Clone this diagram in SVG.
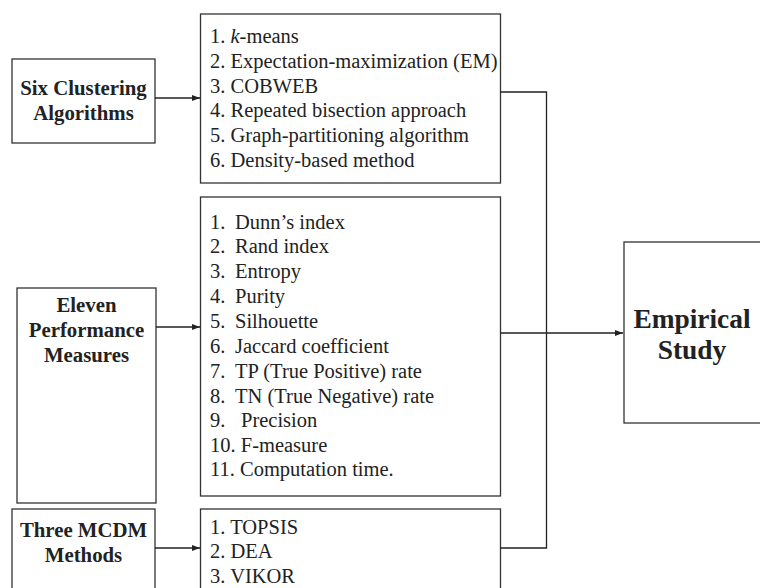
<svg xmlns="http://www.w3.org/2000/svg" width="760" height="588" viewBox="0 0 760 588">
<defs>
<marker id="ah" viewBox="0 0 8 6" refX="8" refY="3" markerWidth="8" markerHeight="6" markerUnits="userSpaceOnUse" orient="auto">
<path d="M0,0 L8,3 L0,6 Z" fill="#222"/>
</marker>
<style>
rect{fill:#fff;stroke:#333;stroke-width:1.3}
.c{fill:none;stroke:#222;stroke-width:1.3}
text{font-family:"Liberation Serif","Times New Roman",serif;fill:#222}
.h{font-weight:bold;font-size:20.8px;text-anchor:middle}
.l{font-size:20.5px}
.e{font-weight:bold;font-size:27.4px;text-anchor:middle}
</style>
</defs>
<rect x="0" y="0" width="760" height="588" style="stroke:none"/>
<g id="n-six">
<rect x="12" y="59" width="143" height="84"/>
<text class="h" x="83.5" y="95">Six Clustering</text>
<text class="h" x="83.5" y="120">Algorithms</text>
</g>
<g id="n-eleven">
<rect x="17" y="288" width="139" height="215"/>
<text class="h" x="86.5" y="312">Eleven</text>
<text class="h" x="86.5" y="337">Performance</text>
<text class="h" x="86.5" y="362">Measures</text>
</g>
<g id="n-three">
<rect x="12" y="509" width="143" height="90"/>
<text class="h" x="83.5" y="537">Three MCDM</text>
<text class="h" x="83.5" y="562">Methods</text>
</g>
<g id="n-algs">
<rect x="200.5" y="14" width="300" height="169"/>
<text class="l" x="210" y="43">1. <tspan font-style="italic">k</tspan>-means</text>
<text class="l" x="210" y="68">2. Expectation-maximization (EM)</text>
<text class="l" x="210" y="93">3. COBWEB</text>
<text class="l" x="210" y="117">4. Repeated bisection approach</text>
<text class="l" x="210" y="142">5. Graph-partitioning algorithm</text>
<text class="l" x="210" y="167">6. Density-based method</text>
</g>
<g id="n-measures">
<rect x="200.5" y="197" width="300" height="299"/>
<text class="l" x="210" y="229">1.</text><text class="l" x="235" y="229">Dunn’s index</text>
<text class="l" x="210" y="253">2.</text><text class="l" x="235" y="253">Rand index</text>
<text class="l" x="210" y="278">3.</text><text class="l" x="235" y="278">Entropy</text>
<text class="l" x="210" y="303">4.</text><text class="l" x="235" y="303">Purity</text>
<text class="l" x="210" y="328">5.</text><text class="l" x="235" y="328">Silhouette</text>
<text class="l" x="210" y="353">6.</text><text class="l" x="235" y="353">Jaccard coefficient</text>
<text class="l" x="210" y="378">7.</text><text class="l" x="235" y="378">TP (True Positive) rate</text>
<text class="l" x="210" y="403">8.</text><text class="l" x="235" y="403">TN (True Negative) rate</text>
<text class="l" x="210" y="427">9.</text><text class="l" x="241" y="427">Precision</text>
<text class="l" x="210" y="452">10. F-measure</text>
<text class="l" x="210" y="476">11. Computation time.</text>
</g>
<g id="n-mcdm">
<rect x="200.5" y="509" width="300" height="90"/>
<text class="l" x="210" y="534">1. TOPSIS</text>
<text class="l" x="210" y="558">2. DEA</text>
<text class="l" x="210" y="583">3. VIKOR</text>
</g>
<g id="n-empirical">
<rect x="624" y="242" width="150" height="181"/>
<text class="e" x="692" y="328">Empirical</text>
<text class="e" x="692" y="359">Study</text>
</g>
<g id="connectors">
<line class="c" x1="155" y1="98" x2="200" y2="98" marker-end="url(#ah)"/>
<line class="c" x1="156" y1="327" x2="200" y2="327" marker-end="url(#ah)"/>
<line class="c" x1="155" y1="548" x2="200" y2="548" marker-end="url(#ah)"/>
<polyline class="c" points="500.5,92 546.5,92 546.5,548 500.5,548"/>
<line class="c" x1="500.5" y1="333" x2="623" y2="333" marker-end="url(#ah)"/>
</g>
</svg>
